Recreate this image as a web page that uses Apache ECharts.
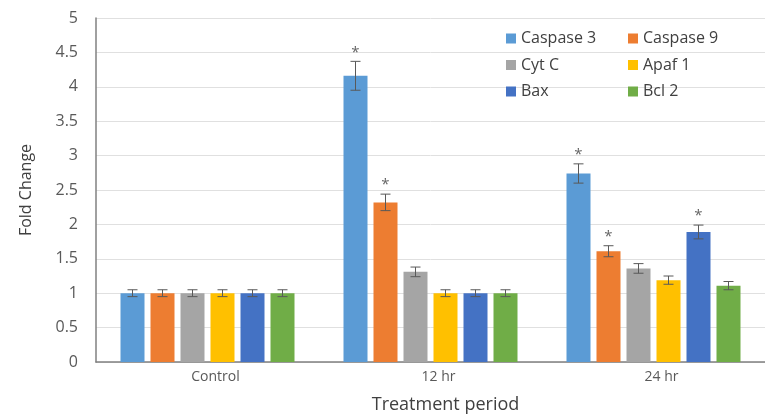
<!DOCTYPE html>
<html>
<head>
<meta charset="utf-8">
<script src="https://cdn.jsdelivr.net/npm/echarts@6/dist/echarts.min.js"></script>
<style>html,body{margin:0;padding:0;background:#fff}#c{width:765px;height:415px}</style>
</head>
<body>
<div id="c"></div>
<script>
var categories = ['Control', '12 hr', '24 hr'];
var seriesNames = ['Caspase 3', 'Caspase 9', 'Cyt C', 'Apaf 1', 'Bax', 'Bcl 2'];
var colors = ['#5B9BD5', '#ED7D31', '#A5A5A5', '#FFC000', '#4472C4', '#70AD47'];
var caspase3 = [1.0, 4.16, 2.74];
var caspase9 = [1.0, 2.32, 1.61];
var cytC = [1.0, 1.31, 1.36];
var apaf1 = [1.0, 1.0, 1.19];
var bax = [1.0, 1.0, 1.89];
var bcl2 = [1.0, 1.0, 1.11];
var err3 = [0.05, 0.21, 0.14];
var err9 = [0.05, 0.12, 0.08];
var errCyt = [0.05, 0.07, 0.07];
var errApaf = [0.05, 0.05, 0.06];
var errBax = [0.05, 0.05, 0.10];
var errBcl = [0.05, 0.05, 0.06];
var sig3 = [0, 1, 1];
var sig9 = [0, 1, 1];
var sigCyt = [0, 0, 0];
var sigApaf = [0, 0, 0];
var sigBax = [0, 0, 1];
var sigBcl = [0, 0, 0];
var yTicks = {min: 0, max: 5, interval: 0.5};

var values = [caspase3, caspase9, cytC, apaf1, bax, bcl2];
var errors = [err3, err9, errCyt, errApaf, errBax, errBcl];
var sigs = [sig3, sig9, sigCyt, sigApaf, sigBax, sigBcl];

var BAR_W = 24, BAR_GAP = 6;
var series = seriesNames.map(function (n, i) {
  return {
    name: n, type: 'bar', data: values[i], barWidth: BAR_W, barGap: (BAR_GAP / BAR_W * 100) + '%',
    itemStyle: {color: colors[i]}
  };
});
var errData = [];
values.forEach(function (arr, s) {
  arr.forEach(function (v, c) { errData.push([c, s, v, errors[s][c], sigs[s][c]]); });
});
series.push({
  type: 'custom', name: 'err', data: errData, z: 10, silent: true,
  renderItem: function (params, api) {
    var c = api.value(0), s = api.value(1), v = api.value(2), e = api.value(3), sig = api.value(4);
    var off = (s - (seriesNames.length - 1) / 2) * (BAR_W + BAR_GAP);
    var top = api.coord([c, v + e]);
    var bot = api.coord([c, v - e]);
    var x = top[0] + off, half = 5;
    var st = {stroke: '#595959', lineWidth: 1};
    var children = [
      {type: 'line', shape: {x1: x, y1: top[1], x2: x, y2: bot[1]}, style: st},
      {type: 'line', shape: {x1: x - half, y1: top[1], x2: x + half, y2: top[1]}, style: st},
      {type: 'line', shape: {x1: x - half, y1: bot[1], x2: x + half, y2: bot[1]}, style: st}
    ];
    if (sig) {
      children.push({type: 'text', style: {text: '*', x: x, y: top[1] - 9, textAlign: 'center', textVerticalAlign: 'middle', fill: '#666666', font: '15px "Open Sans", sans-serif'}});
    }
    return {type: 'group', children: children};
  }
});

var legendText = {fontSize: 16, color: '#404040', fontFamily: '"Open Sans", "Liberation Sans", sans-serif', lineHeight: 17};
var chart = echarts.init(document.getElementById('c'));
chart.setOption({
  animation: false,
  color: colors,
  legend: [
    {data: [seriesNames[0], seriesNames[2], seriesNames[4]], orient: 'vertical', left: 506, top: 30, itemWidth: 10, itemHeight: 10, itemGap: 9.5, textStyle: legendText, icon: 'rect', padding: 0},
    {data: [seriesNames[1], seriesNames[3], seriesNames[5]], orient: 'vertical', left: 628, top: 30, itemWidth: 10, itemHeight: 10, itemGap: 9.5, textStyle: legendText, icon: 'rect', padding: 0}
  ],
  grid: {left: 96, right: 0, top: 18, bottom: 53, containLabel: false, outerBoundsMode: 'none'},
  xAxis: {
    type: 'category', data: categories,
    axisLine: {lineStyle: {color: '#808080', width: 1.5}},
    axisTick: {show: false},
    axisLabel: {color: '#595959', fontSize: 14, margin: 8, fontFamily: '"Open Sans", sans-serif', padding: [0, 0, 0, 16]},
    name: 'Treatment period', nameLocation: 'middle', nameGap: 34,
    nameTextStyle: {color: '#404040', fontSize: 18, fontFamily: '"Open Sans", sans-serif', padding: [0, 0, 0, 30]}
  },
  yAxis: {
    type: 'value', min: yTicks.min, max: yTicks.max, interval: yTicks.interval,
    axisLine: {show: true, lineStyle: {color: '#808080', width: 1.5}},
    axisTick: {show: false},
    splitLine: {lineStyle: {color: '#e0e0e0'}},
    axisLabel: {color: '#595959', fontSize: 16, margin: 18, fontFamily: '"Open Sans", sans-serif'},
    name: 'Fold Change', nameLocation: 'middle', nameGap: 62, nameRotate: 90,
    nameTextStyle: {color: '#404040', fontSize: 16, fontFamily: '"Open Sans", sans-serif'}
  },
  series: series
});
</script>
</body>
</html>
